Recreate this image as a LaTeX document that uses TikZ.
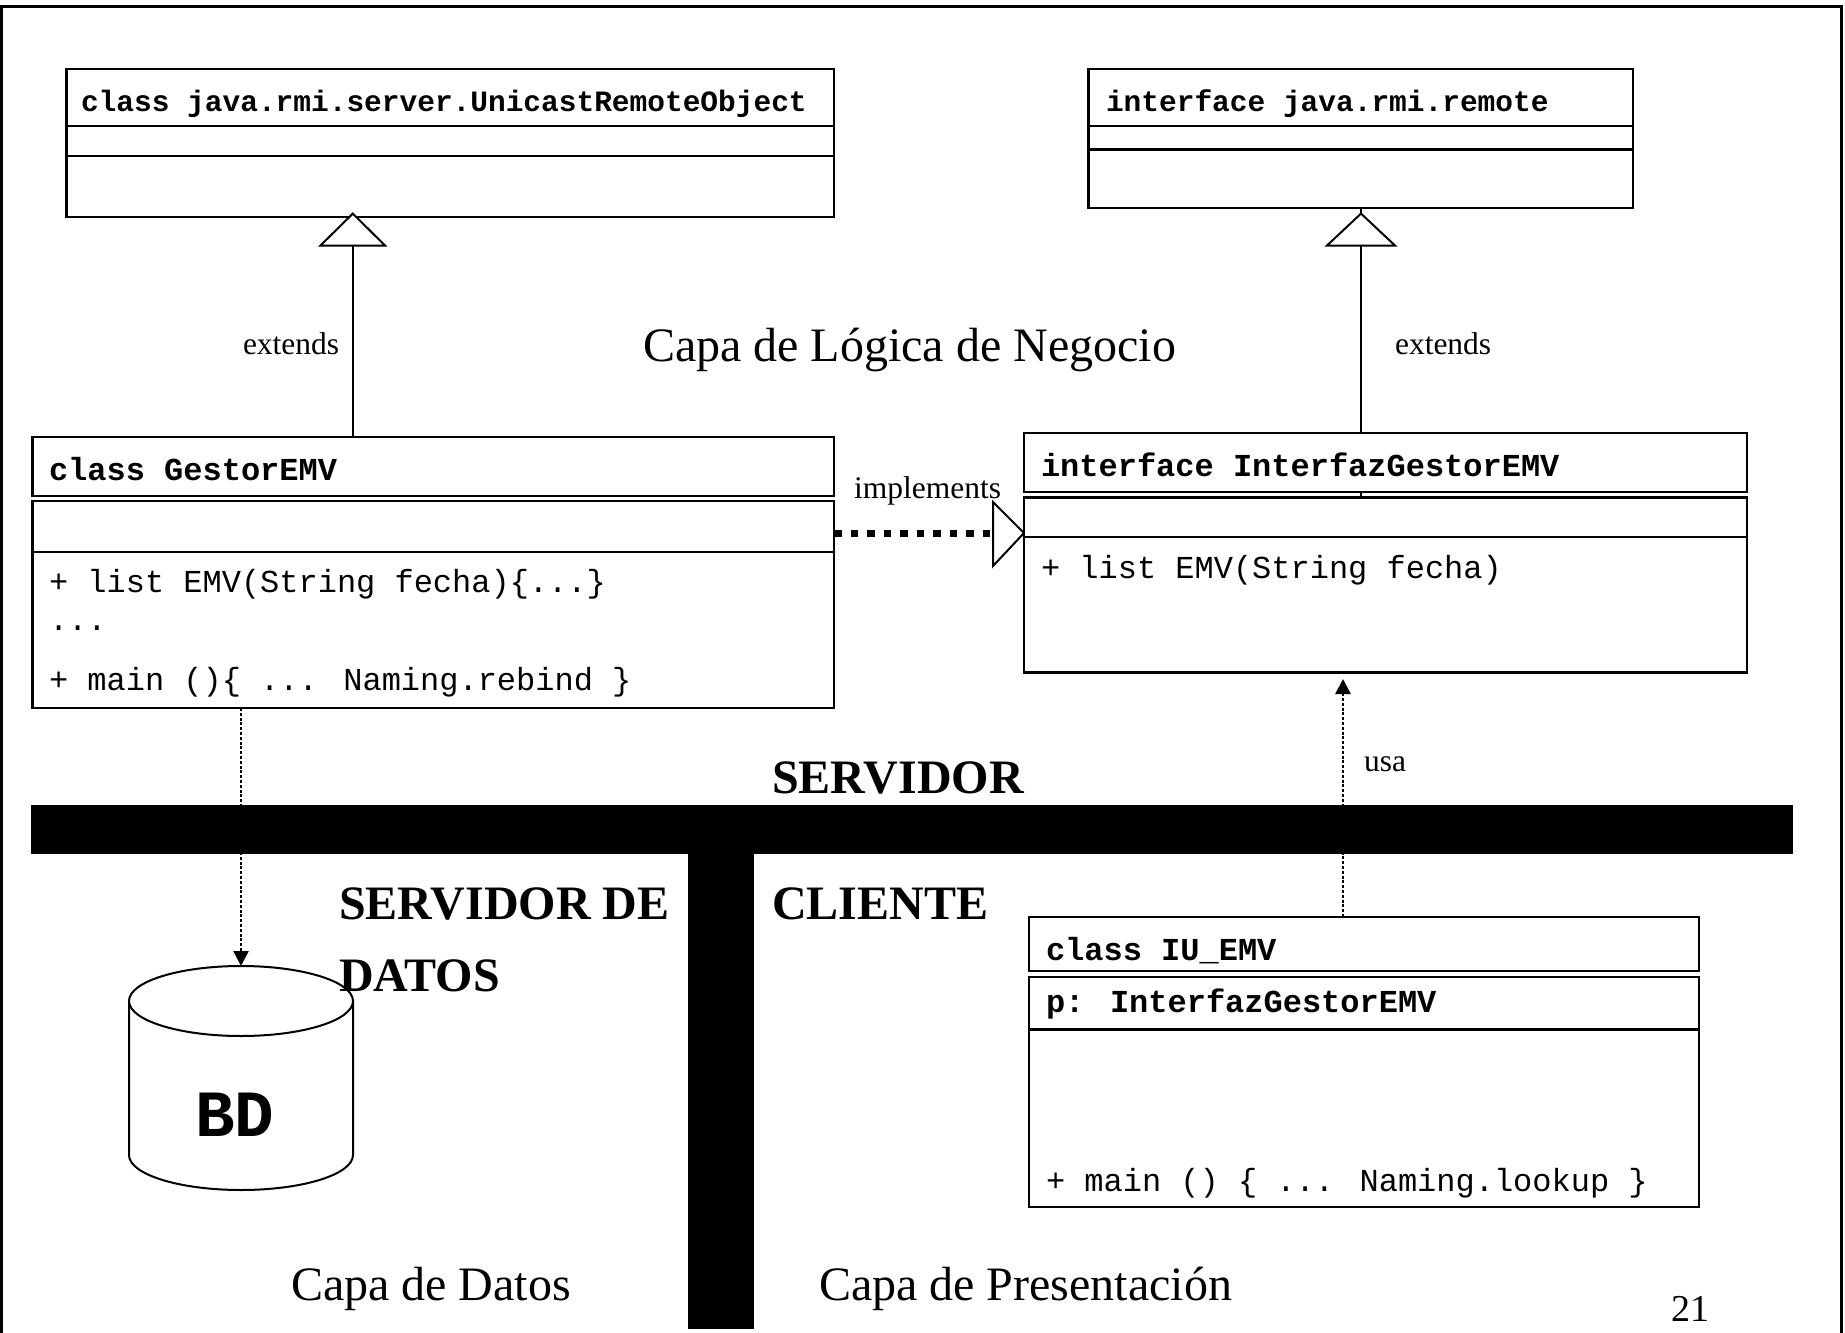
\documentclass[tikz,border=0pt]{standalone}
\usepackage{fontspec}
\setmainfont{Liberation Serif}
\newfontfamily\monof{Liberation Mono}
\usetikzlibrary{arrows.meta}
\newcommand\fsz[1]{\fontsize{#1}{#1}\selectfont}
\begin{document}
\begin{tikzpicture}[x=1pt,y=-1pt,
  umlbox/.style={draw,line width=2.5pt,fill=white,inner sep=0pt,outer sep=0pt,anchor=north west},
  txt/.style={inner sep=0pt,outer sep=0pt,anchor=base west},
  hdr/.style={txt,font=\monof\bfseries\fsz{32}},
  hdrs/.style={txt,font=\monof\bfseries\fsz{29.5}},
  mth/.style={txt,font=\monof\fsz{32}},
  lbl/.style={txt,font=\fsz{31.5}},
  big/.style={txt,font=\bfseries\fsz{48}},
  layer/.style={txt,font=\fsz{48}},
  gen/.style={draw,line width=2pt,fill=white},
  genline/.style={line width=2pt},
  dep/.style={line width=2.5pt,dash pattern=on 3pt off 1.8pt,-{Triangle[width=15pt,length=15pt]}},
  impl/.style={line width=7pt,dash pattern=on 7.5pt off 9pt},
  bar/.style={fill=black,draw=none}]
\useasboundingbox (0,0) rectangle (1845,1333);
% frame
\draw[line width=3pt] (1.2,1333) -- (1.2,6) -- (1841,6) -- (1841,1333);

% connector end points
\coordinate (e1t) at (352.8,217);
\coordinate (e1b) at (352.8,437);
\coordinate (e2t) at (1361,208);
\coordinate (e2b) at (1361,497.5);
\coordinate (ims) at (834,533);
\coordinate (ime) at (993,533);
\coordinate (dbs) at (241,708);
\coordinate (dbt) at (241,966);
\coordinate (us) at (1343,917);
\coordinate (ut) at (1343,679);

% generalisation lines (behind boxes)
\draw[genline] (e1b) -- (e1t);
\draw[genline] (e2b) -- (e2t);

% dependency lines
\draw[dep] (dbs) -- (dbt);
\draw[dep] (us) -- (ut);
\draw[impl] (ims) -- (ime);

% UnicastRemoteObject
\node[umlbox,minimum width=767.5pt,minimum height=57pt] (uroH) at (66.5,69) {};
\node[umlbox,minimum width=767.5pt,minimum height=30pt] (uroA) at (66.5,126) {};
\node[umlbox,minimum width=767.5pt,minimum height=61pt] (uroM) at (66.5,156) {};
% java.rmi.remote
\node[umlbox,minimum width=544.4pt,minimum height=57pt] (remH) at (1088.6,69) {};
\node[umlbox,minimum width=544.4pt,minimum height=23.5pt] (remA) at (1088.6,126) {};
\node[umlbox,minimum width=544.4pt,minimum height=58.5pt] (remM) at (1088.6,149.5) {};
% GestorEMV
\node[umlbox,minimum width=801.7pt,minimum height=59pt] (gesH) at (32.3,437) {};
\node[umlbox,minimum width=801.7pt,minimum height=51pt] (gesA) at (32.3,501) {};
\node[umlbox,minimum width=801.7pt,minimum height=156pt] (gesM) at (32.3,552) {};
% InterfazGestorEMV
\node[umlbox,minimum width=723pt,minimum height=59pt] (intH) at (1024,433) {};
\node[umlbox,minimum width=723pt,minimum height=39.5pt] (intA) at (1024,497.5) {};
\node[umlbox,minimum width=723pt,minimum height=135.4pt] (intM) at (1024,537) {};
% IU_EMV
\node[umlbox,minimum width=670pt,minimum height=54pt] (iuH) at (1029,917) {};
\node[umlbox,minimum width=670pt,minimum height=52.5pt] (iuA) at (1029,977) {};
\node[umlbox,minimum width=670pt,minimum height=177.5pt] (iuM) at (1029,1029.5) {};

% generalisation triangles
\draw[gen] (352.8,213.6) -- (320.5,245.5) -- (385,245.5) -- cycle;
\draw[gen] (1361,213.6) -- (1327,245.5) -- (1395,245.5) -- cycle;
% realisation triangle
\draw[gen] (993,502) -- (1024,533) -- (993,566) -- cycle;

% box texts
\node[hdrs] (t1) at (81,111) {class java.rmi.server.UnicastRemoteObject};
\node[hdrs] (t2) at (1106,111) {interface java.rmi.remote};
\node[hdr] (t3) at (49,480) {class GestorEMV};
\node[mth] (t4) at (49,592.5) {+ list EMV(String fecha)\{...\}};
\node[mth] (t5) at (49,630.7) {...};
\node[mth] (t6) at (49,690.7) {+ main ()\{ ... Naming.rebind \}};
\node[hdr] (t7) at (1041,476) {interface InterfazGestorEMV};
\node[mth] (t8) at (1041,578.5) {+ list EMV(String fecha)};
\node[hdr] (t9) at (1046,960) {class IU\_EMV};
\node[hdr] (t10) at (1046,1012) {p: InterfazGestorEMV};
\node[mth] (t11) at (1046,1191.5) {+ main () \{ ... Naming.lookup \}};

% connector labels
\node[lbl] (l1) at (243,354.5) {extends};
\node[lbl] (l2) at (1395,354.5) {extends};
\node[lbl] (l3) at (854,498) {implements};
\node[lbl] (l4) at (1364,771.5) {usa};

% bars
\fill[bar] (31,805) rectangle (1793,854);
\fill[bar] (688,850) rectangle (754,1329);

% database cylinder
\draw[line width=2pt,fill=white] (129,1001) -- (129,1155) arc[start angle=180,end angle=0,x radius=112,y radius=35] -- (353,1001);
\draw[line width=2pt,fill=white] (241,1001) ellipse [x radius=112, y radius=35];
\node[inner sep=0pt,anchor=base,font=\monof\bfseries\fsz{66}] (bd) at (235,1136) {BD};

% titles
\node[layer] (capaN) at (643,361) {Capa de Lógica de Negocio};
\node[big] (serv) at (772,793) {SERVIDOR};
\node[big] (servd1) at (339,919) {SERVIDOR DE};
\node[big] (servd2) at (339,991.5) {DATOS};
\node[big] (cli) at (772,919) {CLIENTE};
\node[layer] (capaD) at (291,1300) {Capa de Datos};
\node[layer] (capaP) at (819,1300) {Capa de Presentación};
\node[txt,font=\fsz{38}] (pg) at (1671,1321) {21};
\end{tikzpicture}
\end{document}
